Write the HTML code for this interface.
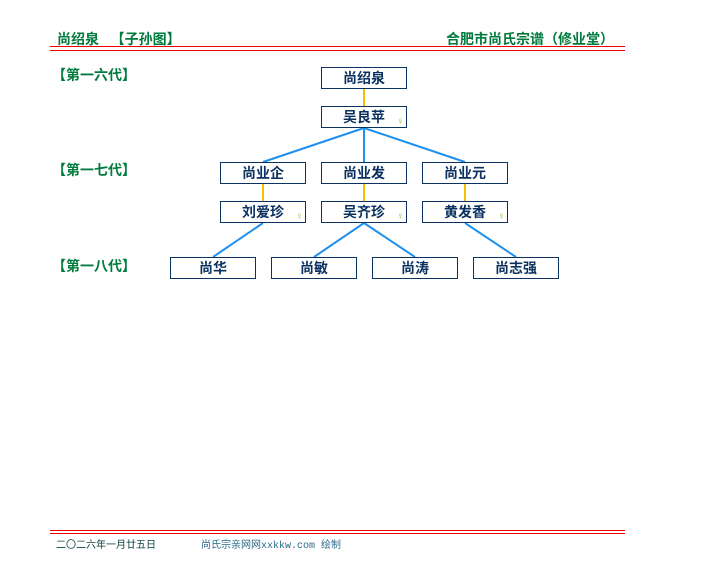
<!DOCTYPE html>
<html><head><meta charset="utf-8"><style>
body{margin:0;width:724px;height:580px;background:#fff;position:relative;font-family:"Liberation Sans","Noto Sans CJK SC",sans-serif;overflow:hidden}
.a{position:absolute;white-space:nowrap}
.g{color:#007a3d;font-weight:bold;font-size:14px}
.b{position:absolute;width:84px;height:20px;border:1px solid #0b3160;text-align:center;line-height:20px;font-size:14px;font-weight:bold;color:#0b3160;background:#fff}
.f{position:absolute;right:2px;bottom:0;font-size:10px;line-height:10px;color:#8bc34a;font-weight:normal}
</style></head><body>
<div class="a g" style="left:57px;top:29px">尚绍泉&nbsp;&nbsp;&nbsp;【子孙图】</div>
<div class="a g" style="left:446px;top:29px">合肥市尚氏宗谱（修业堂）</div>
<div class="a" style="left:50px;top:46px;width:575px;height:1px;background:#e00"></div>
<div class="a" style="left:50px;top:50px;width:575px;height:1px;background:#e00"></div>
<div class="a g" style="left:52px;top:65px">【第一六代】</div>
<div class="a g" style="left:52px;top:160px">【第一七代】</div>
<div class="a g" style="left:52px;top:256px">【第一八代】</div>
<svg class="a" style="left:0;top:0" width="724" height="580">
<g stroke="#f5c000" stroke-width="2"><line x1="364" y1="89" x2="364" y2="106"/><line x1="263" y1="184" x2="263" y2="201"/><line x1="364" y1="184" x2="364" y2="201"/><line x1="465" y1="184" x2="465" y2="201"/></g>
<g stroke="#1e90f0" stroke-width="2"><line x1="364" y1="128" x2="263" y2="162"/><line x1="364" y1="128" x2="364" y2="162"/><line x1="364" y1="128" x2="465" y2="162"/><line x1="263" y1="223" x2="213" y2="257"/><line x1="364" y1="223" x2="314" y2="257"/><line x1="364" y1="223" x2="415" y2="257"/><line x1="465" y1="223" x2="516" y2="257"/></g>
</svg>
<div class="b" style="left:321px;top:67px">尚绍泉</div>
<div class="b" style="left:321px;top:106px">吴良苹<span class="f">♀</span></div>
<div class="b" style="left:220px;top:162px">尚业企</div>
<div class="b" style="left:321px;top:162px">尚业发</div>
<div class="b" style="left:422px;top:162px">尚业元</div>
<div class="b" style="left:220px;top:201px">刘爱珍<span class="f">♀</span></div>
<div class="b" style="left:321px;top:201px">吴齐珍<span class="f">♀</span></div>
<div class="b" style="left:422px;top:201px">黄发香<span class="f">♀</span></div>
<div class="b" style="left:170px;top:257px">尚华</div>
<div class="b" style="left:271px;top:257px">尚敏</div>
<div class="b" style="left:372px;top:257px">尚涛</div>
<div class="b" style="left:473px;top:257px">尚志强</div>
<div class="a" style="left:50px;top:530px;width:575px;height:1px;background:#e00"></div>
<div class="a" style="left:50px;top:533px;width:575px;height:1px;background:#e00"></div>
<div class="a" style="left:56px;top:536px;font-size:10px;color:#0b3c3c;font-family:'Liberation Mono','Noto Sans CJK SC',monospace">二〇二六年一月廿五日</div>
<div class="a" style="left:201px;top:536px;font-size:10px;color:#2a6a8a;font-family:'Liberation Mono','Noto Sans CJK SC',monospace">尚氏宗亲网网xxkkw.com 绘制</div>
</body></html>
